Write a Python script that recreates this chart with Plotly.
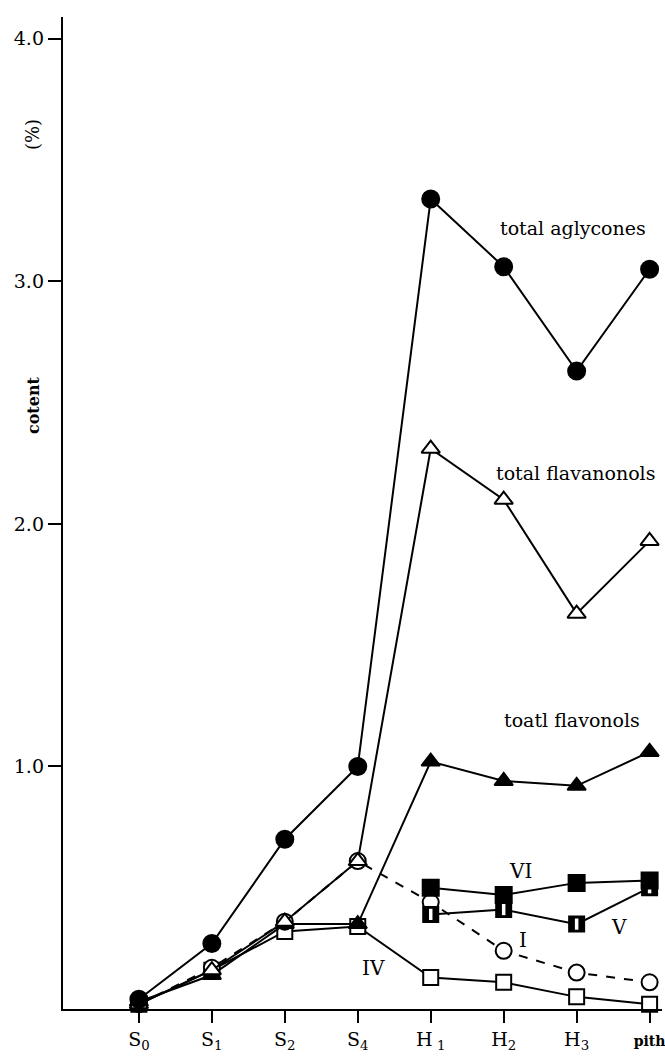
import plotly.graph_objects as go

# ---- data ----
stages = ["S0", "S1", "S2", "S4", "H1", "H2", "H3", "pith"]
stage_labels = ["S<sub>0</sub>", "S<sub>1</sub>", "S<sub>2</sub>", "S<sub>4</sub>",
                "H<sub> 1</sub>", "H<sub>2</sub>", "H<sub>3</sub>",
                "<span style='font-size:14px'><b>pith</b></span>"]
y_tick_vals = [1.0, 2.0, 3.0, 4.0]
y_tick_text = ["1.0", "2.0", "3.0", "4.0"]

total_aglycones = [0.04, 0.27, 0.70, 1.00, 3.34, 3.06, 2.63, 3.05]
total_flavanonols = [0.02, 0.16, 0.36, 0.61, 2.31, 2.10, 1.63, 1.93]
total_flavonols = [0.03, 0.14, 0.35, 0.35, 1.02, 0.94, 0.92, 1.06]
comp_I = [0.02, 0.17, 0.36, 0.61, 0.44, 0.24, 0.15, 0.11]
comp_IV = [0.02, 0.16, 0.32, 0.34, 0.13, 0.11, 0.05, 0.02]
comp_V = [None, None, None, None, 0.39, 0.41, 0.35, 0.50]
comp_VI = [None, None, None, None, 0.50, 0.47, 0.52, 0.53]

x = list(range(len(stages)))
SERIF = "DejaVu Serif"
LW = 2.0

fig = go.Figure()

def add(y, symbol, color, size, dash="solid", mline=2.0):
    fig.add_trace(go.Scatter(
        x=x, y=y, mode="lines+markers", cliponaxis=False, connectgaps=False,
        line=dict(color="black", width=LW, dash=dash),
        marker=dict(symbol=symbol, size=size, color=color,
                    line=dict(color="black", width=mline)),
        showlegend=False, hoverinfo="skip"))

add(comp_IV, "square", "white", 15)
add(comp_I, "circle", "white", 16, dash="dash")
add(total_flavonols, "triangle-up", "black", 16)
add(total_flavanonols, "triangle-up", "white", 16)
add(comp_V, "square", "black", 15)
fig.add_trace(go.Scatter(x=x, y=comp_V, mode="markers", cliponaxis=False,
                         marker=dict(symbol="line-ns", size=8,
                                     line=dict(color="white", width=3.5)),
                         showlegend=False, hoverinfo="skip"))
add(comp_VI, "square", "black", 16)
add(total_aglycones, "circle", "black", 17)

# series labels
labels = [
    ("total aglycones", 5.95, 3.22, 19),
    ("total flavanonols", 5.98, 2.21, 19),
    ("toatl flavonols", 5.94, 1.19, 19),
    ("VI", 5.23, 0.57, 20),
    ("V", 6.58, 0.34, 20),
    ("I", 5.27, 0.285, 20),
    ("IV", 3.21, 0.17, 20),
]
for txt, lx, ly, fs in labels:
    fig.add_annotation(x=lx, y=ly, text=txt, showarrow=False,
                       font=dict(family=SERIF, size=fs, color="black"))

# axis titles
fig.add_annotation(xref="paper", yref="paper", x=-0.05, y=(1009 - 405) / 992,
                   xanchor="center", yanchor="middle",
                   text="<b>cotent</b>", textangle=-90, showarrow=False,
                   font=dict(family=SERIF, size=16, color="black"))
fig.add_annotation(xref="paper", yref="paper", x=-0.05, y=(1009 - 135) / 992,
                   xanchor="center", yanchor="middle",
                   text="(%)", textangle=-90, showarrow=False,
                   font=dict(family=SERIF, size=18, color="black"))

fig.update_xaxes(range=[-1.04, 7.17], tickvals=x, ticktext=stage_labels,
                 showline=True, linecolor="black", linewidth=1.8,
                 ticks="outside", ticklen=12, tickwidth=1.8, tickcolor="black",
                 showgrid=False, zeroline=False, ticklabeloverflow="allow",
                 automargin=False,
                 tickfont=dict(family=SERIF, size=19, color="black"))
fig.update_yaxes(range=[0, 4.09], tickvals=y_tick_vals, ticktext=y_tick_text,
                 showline=True, linecolor="black", linewidth=2.4,
                 ticks="outside", ticklen=13, tickwidth=2.4, tickcolor="black",
                 showgrid=False, zeroline=False, automargin=False,
                 tickfont=dict(family=SERIF, size=19, color="black"))

fig.update_layout(width=665, height=1059,
                  margin=dict(l=63, r=3, t=17, b=50),
                  plot_bgcolor="white", paper_bgcolor="white")

fig.write_html("out.html", config={"displayModeBar": False},
               post_script="document.body.style.margin='0px';")
